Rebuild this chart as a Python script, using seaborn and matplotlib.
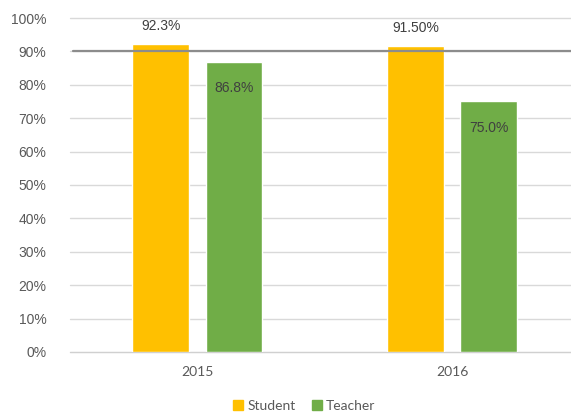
import pandas as pd
import matplotlib.pyplot as plt
import seaborn as sns

# ==========================================
# Data
# ==========================================

years = ["2015", "2016"]
groups = ["Student", "Teacher"]
student = [92.3, 91.5]
teacher = [86.8, 75.0]
labels_student = ["92.3%", "91.50%"]
labels_teacher = ["86.8%", "75.0%"]
target = 90
yticks = [0, 10, 20, 30, 40, 50, 60, 70, 80, 90, 100]

df = pd.DataFrame({
    "Year": years * 2,
    "Group": [groups[0]] * len(years) + [groups[1]] * len(years),
    "Value": student + teacher,
})

# ==========================================
# Plot
# ==========================================

sns.set_style("white")
plt.rcParams["font.family"] = ["Liberation Sans", "DejaVu Sans"]

fig = plt.figure(figsize=(5.71, 4.15), dpi=100)
ax = fig.add_axes([0.1226, 0.152, 0.8774, 0.8046])

palette = {"Student": "#FFC000", "Teacher": "#70AD47"}
sns.barplot(
    data=df, x="Year", y="Value", hue="Group", order=years,
    hue_order=groups, palette=palette, width=0.573, gap=0.22,
    saturation=1, ax=ax, legend=False, zorder=3
)

ax.set_xlim(-0.5, 1.465)
ax.set_ylim(0, 100)
ax.set_yticks(yticks)
ax.set_yticklabels([f"{t}%" for t in yticks], fontsize=10, color="#595959")
ax.tick_params(axis="y", length=0, pad=17)
ax.tick_params(axis="x", length=0, pad=10)
for lab in ax.get_xticklabels():
    lab.set_fontfamily("Lato")
    lab.set_fontsize(10)
    lab.set_color("#595959")
ax.set_xlabel("")
ax.set_ylabel("")

ax.grid(axis="y", color="#d9d9d9", lw=1, zorder=0, clip_on=False)
for s in ["top", "right", "left"]:
    ax.spines[s].set_visible(False)
ax.spines["bottom"].set_color("#d0d0d0")

# target line
ax.axhline(target, xmin=0.006, color="#8c8c8c", lw=1.6, zorder=4)

# data labels
student_bars = ax.containers[0]
teacher_bars = ax.containers[1]
ax.bar_label(student_bars, labels=labels_student, padding=8,
             fontsize=10, color="#404040")
ax.bar_label(teacher_bars, labels=labels_teacher, padding=-24,
             fontsize=10, color="#404040")

# legend
handles = [plt.Rectangle((0, 0), 1, 1, color=palette[g]) for g in groups]
fig.legend(handles, groups, loc="center", bbox_to_anchor=(0.533, 0.022),
           ncol=2, frameon=False, handlelength=0.7, handleheight=0.7,
           handletextpad=0.3, columnspacing=1.2,
           prop={"family": "Lato", "size": 10})

for t in fig.legends[0].get_texts():
    t.set_color("#595959")

fig.savefig("out.png", dpi=100)
